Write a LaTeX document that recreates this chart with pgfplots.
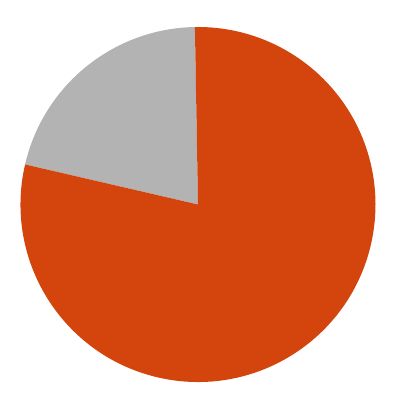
\documentclass[border=0pt]{standalone}
\usepackage{pgfplots}
\usepackage{pgfplotstable}
\pgfplotsset{compat=1.18}
\definecolor{sliceorange}{RGB}{211,69,12}
\definecolor{slicegray}{RGB}{179,179,179}

% share of each slice, in percent, drawn counter-clockwise from the start angle
\pgfplotstableread{
label  value
gray   21.1
orange 78.9
}\piedata

\begin{document}
\begin{tikzpicture}
\begin{axis}[
    x=1pt, y=1pt,
    xmin=0, xmax=401, ymin=0, ymax=401,
    scale only axis,
    hide axis,
    clip=false,
]
    \path (axis cs:0,0) rectangle (axis cs:401,401);
    \pgfmathsetmacro{\cx}{198}
    \pgfmathsetmacro{\cy}{196.5}
    \pgfmathsetmacro{\r}{177.5}
    \pgfplotstablegetelem{0}{value}\of\piedata
    \pgfmathsetmacro{\va}{\pgfplotsretval}
    \pgfplotstablegetelem{1}{value}\of\piedata
    \pgfmathsetmacro{\vb}{\pgfplotsretval}
    \pgfmathsetmacro{\aone}{91}
    \pgfmathsetmacro{\atwo}{\aone+3.6*\va}
    \pgfmathsetmacro{\athree}{\atwo+3.6*\vb}
    \fill[slicegray] (axis cs:\cx,\cy) -- (axis cs:{\cx+\r*cos(\aone)},{\cy+\r*sin(\aone)})
        arc[start angle=\aone, end angle=\atwo, radius=\r pt] -- cycle;
    \fill[sliceorange] (axis cs:\cx,\cy) -- (axis cs:{\cx+\r*cos(\atwo)},{\cy+\r*sin(\atwo)})
        arc[start angle=\atwo, end angle=\athree, radius=\r pt] -- cycle;
\end{axis}
\end{tikzpicture}
\end{document}
